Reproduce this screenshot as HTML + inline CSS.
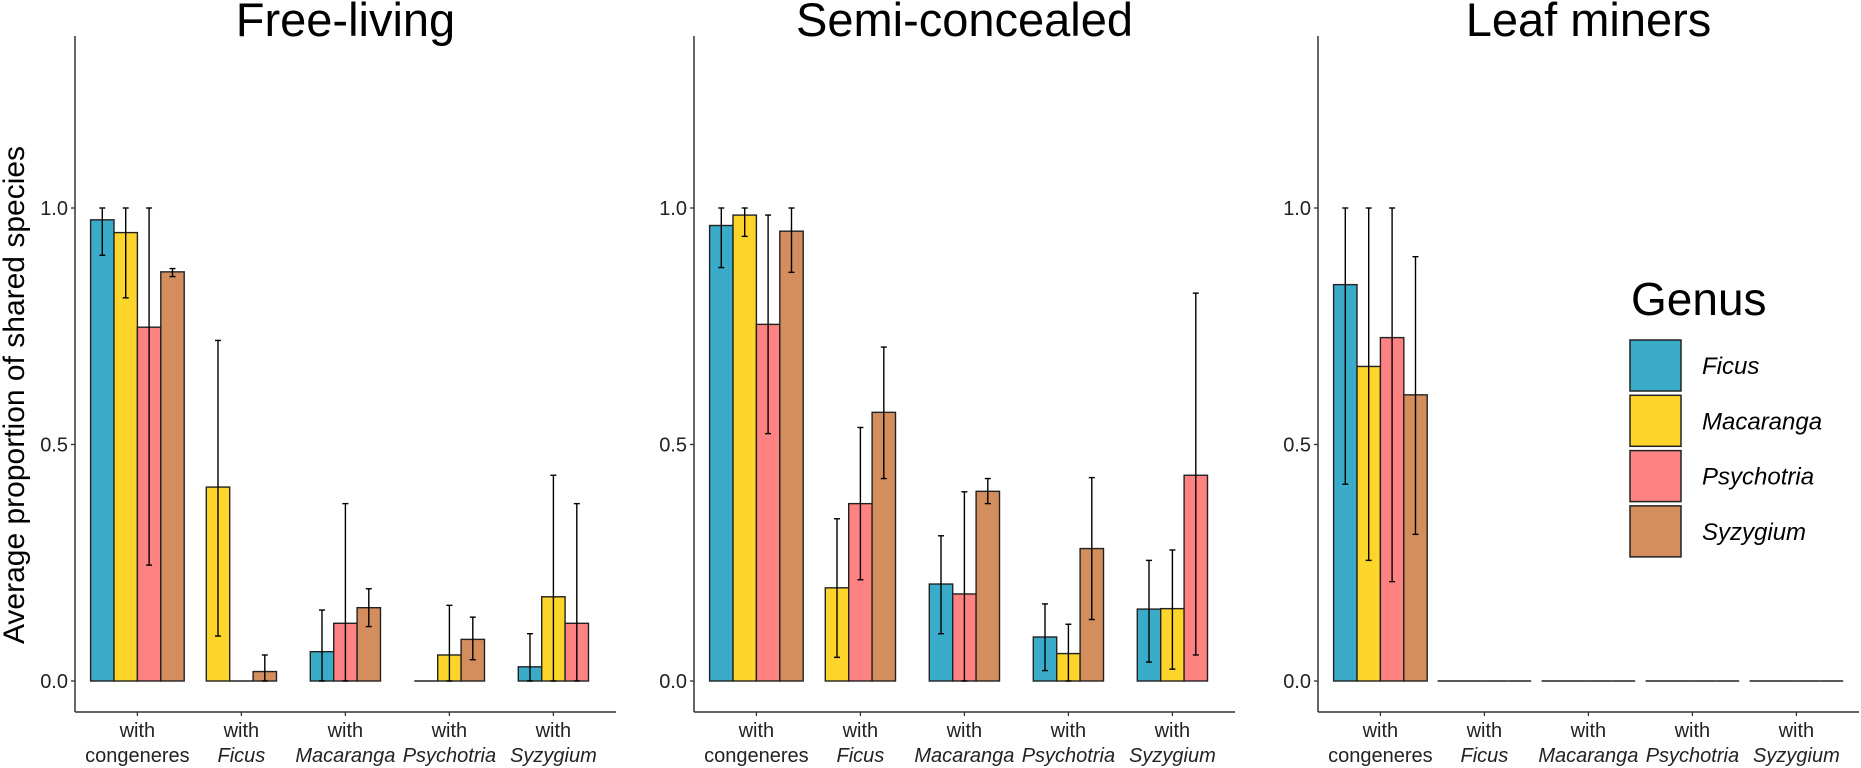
<!DOCTYPE html>
<html><head><meta charset="utf-8">
<style>
html,body{margin:0;padding:0;background:#fff;}
svg{display:block;font-family:"Liberation Sans",Arial,sans-serif;}
</style></head>
<body>
<svg id="chart" width="1861" height="768" viewBox="0 0 1861 768" xmlns="http://www.w3.org/2000/svg">
<text transform="translate(24,395) rotate(-90)" text-anchor="middle" font-size="30" fill="#000">Average proportion of shared species</text>
<g id="panels"></g>
<g>
<text x="1631" y="315" font-size="46" fill="#000">Genus</text>
<g id="legend-items"></g>
</g>
</svg>
<script>
const categories = ["congeneres","Ficus","Macaranga","Psychotria","Syzygium"];
const genera = ["Ficus","Macaranga","Psychotria","Syzygium"];
const colors = ["#3AABC8","#FDD52A","#FE8282","#D48E5E"];
const panelTitles = ["Free-living","Semi-concealed","Leaf miners"];
const yTicks = [0.0,0.5,1.0];
const yTickLabels = ["0.0","0.5","1.0"];

// Free-living
const freeFicus = [0.975,null,0.062,0,0.03];
const freeFicusLo = [0.90,null,0,0,0];
const freeFicusHi = [1.0,null,0.15,0,0.10];
const freeMacaranga = [0.948,0.41,null,0.055,0.178];
const freeMacarangaLo = [0.81,0.095,null,0,0];
const freeMacarangaHi = [1.0,0.72,null,0.16,0.435];
const freePsychotria = [0.748,0,0.122,null,0.122];
const freePsychotriaLo = [0.245,0,0,null,0];
const freePsychotriaHi = [1.0,0,0.375,null,0.375];
const freeSyzygium = [0.865,0.02,0.155,0.088,null];
const freeSyzygiumLo = [0.855,0,0.115,0.045,null];
const freeSyzygiumHi = [0.872,0.055,0.195,0.135,null];

// Semi-concealed
const semiFicus = [0.963,null,0.205,0.093,0.152];
const semiFicusLo = [0.874,null,0.10,0.022,0.04];
const semiFicusHi = [1.0,null,0.307,0.163,0.255];
const semiMacaranga = [0.985,0.197,null,0.058,0.153];
const semiMacarangaLo = [0.94,0.05,null,0,0.025];
const semiMacarangaHi = [1.0,0.343,null,0.12,0.277];
const semiPsychotria = [0.754,0.375,0.184,null,0.435];
const semiPsychotriaLo = [0.523,0.214,0,null,0.055];
const semiPsychotriaHi = [0.985,0.536,0.40,null,0.82];
const semiSyzygium = [0.951,0.568,0.401,0.28,null];
const semiSyzygiumLo = [0.864,0.428,0.375,0.13,null];
const semiSyzygiumHi = [1.0,0.706,0.428,0.43,null];

// Leaf miners
const leafFicus = [0.838,0,0,0,0];
const leafFicusLo = [0.416,0,0,0,0];
const leafFicusHi = [1.0,0,0,0,0];
const leafMacaranga = [0.665,0,0,0,0];
const leafMacarangaLo = [0.255,0,0,0,0];
const leafMacarangaHi = [1.0,0,0,0,0];
const leafPsychotria = [0.726,0,0,0,0];
const leafPsychotriaLo = [0.21,0,0,0,0];
const leafPsychotriaHi = [1.0,0,0,0,0];
const leafSyzygium = [0.605,0,0,0,0];
const leafSyzygiumLo = [0.31,0,0,0,0];
const leafSyzygiumHi = [0.897,0,0,0,0];

const panelData = [
  {m:[freeFicus,freeMacaranga,freePsychotria,freeSyzygium],lo:[freeFicusLo,freeMacarangaLo,freePsychotriaLo,freeSyzygiumLo],hi:[freeFicusHi,freeMacarangaHi,freePsychotriaHi,freeSyzygiumHi]},
  {m:[semiFicus,semiMacaranga,semiPsychotria,semiSyzygium],lo:[semiFicusLo,semiMacarangaLo,semiPsychotriaLo,semiSyzygiumLo],hi:[semiFicusHi,semiMacarangaHi,semiPsychotriaHi,semiSyzygiumHi]},
  {m:[leafFicus,leafMacaranga,leafPsychotria,leafSyzygium],lo:[leafFicusLo,leafMacarangaLo,leafPsychotriaLo,leafSyzygiumLo],hi:[leafFicusHi,leafMacarangaHi,leafPsychotriaHi,leafSyzygiumHi]}
];

const NS = "http://www.w3.org/2000/svg";
const panelLefts = [75,694,1318];
const step = 104, plotW = 541, yTop = 36, xAxisY = 712, y0 = 681, yScale = 473;
const groupW = 0.9*step, barW = groupW/4;
function yPos(v){ return y0 - v*yScale; }
function mk(tag, attrs, parent){ const e=document.createElementNS(NS,tag); for(const k in attrs) e.setAttribute(k,attrs[k]); parent.appendChild(e); return e; }

const root = document.getElementById('panels');
panelData.forEach((pd, p) => {
  const L = panelLefts[p];
  const xPos = i => L + (i + 0.6) * step;
  const g = mk('g', {}, root);
  
  
  const t = mk('text', {x: L + plotW/2, y: 36, 'text-anchor':'middle', 'font-size':47, fill:'#000'}, g);
  t.textContent = panelTitles[p];
  
  
  categories.forEach((c, ci) => {
    const present = [];
    for (let gi=0; gi<4; gi++) if (pd.m[gi][ci] !== null) present.push(gi);
    const n = present.length;
    const start = xPos(ci) - n*barW/2;
    present.forEach((gi, k) => {
      const v = pd.m[gi][ci];
      const x = start + k*barW;
      const h = y0 - yPos(v);
      let r;
      if (h > 0.5) {
        r = mk('rect', {x:x, y:yPos(v), width:barW, height:h, fill:colors[gi], stroke:'#222', 'stroke-width':1.4}, g);
      } else {
        r = mk('line', {x1:x, x2:x+barW, y1:yPos(v), y2:yPos(v), stroke:'#222', 'stroke-width':1.6}, g);
      }
      
      
    });
    present.forEach((gi, k) => {
      const lo = pd.lo[gi][ci], hi = pd.hi[gi][ci];
      if (hi - lo <= 0) return;
      const cx = start + k*barW + barW/2;
      const eb = mk('g', {stroke:'#000', 'stroke-width':1.4}, g);
      
      
      mk('line', {x1:cx, x2:cx, y1:yPos(lo), y2:yPos(hi)}, eb);
      mk('line', {x1:cx-3, x2:cx+3, y1:yPos(lo), y2:yPos(lo)}, eb);
      mk('line', {x1:cx-3, x2:cx+3, y1:yPos(hi), y2:yPos(hi)}, eb);
    });
  });
  const ya = mk('line', {x1:L, x2:L, y1:yTop, y2:xAxisY, stroke:'#333', 'stroke-width':1.5}, g);
  
  
  const xa = mk('line', {x1:L, x2:L+plotW, y1:xAxisY, y2:xAxisY, stroke:'#333', 'stroke-width':1.5}, g);
  
  
  yTicks.forEach((v, i) => {
    mk('line', {x1:L-4, x2:L, y1:yPos(v), y2:yPos(v), stroke:'#333', 'stroke-width':1.3}, g);
    const tl = mk('text', {x:L-7, y:yPos(v)+7, 'text-anchor':'end', 'font-size':20, fill:'#222'}, g);
    tl.textContent = yTickLabels[i];
    
    
  });
  categories.forEach((c, ci) => {
    const x = xPos(ci);
    mk('line', {x1:x, x2:x, y1:xAxisY, y2:xAxisY+4, stroke:'#333', 'stroke-width':1.3}, g);
    const l1 = mk('text', {x:x, y:737, 'text-anchor':'middle', 'font-size':20, fill:'#222'}, g);
    l1.textContent = 'with';
    
    
    const l2 = mk('text', {x:x, y:762, 'text-anchor':'middle', 'font-size':20, fill:'#222', 'font-style': ci===0 ? 'normal' : 'italic'}, g);
    l2.textContent = c;
    
    
  });
});

const li = document.getElementById('legend-items');
genera.forEach((gname, i) => {
  const y = 340 + i*55.3;
  const it = mk('g', {}, li);
  
  
  mk('rect', {x:1630, y:y, width:51, height:51, fill:colors[i], stroke:'#222', 'stroke-width':1.5}, it);
  const t = mk('text', {x:1702, y:y+34, 'font-size':24, 'font-style':'italic', fill:'#000'}, it);
  t.textContent = gname;
});
</script>
</body></html>
